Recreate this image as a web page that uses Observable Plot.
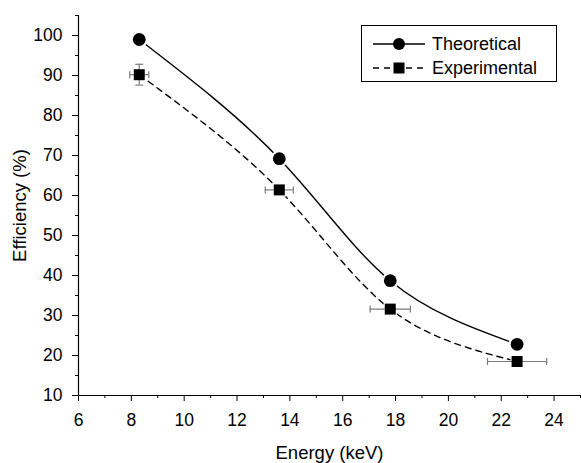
<!DOCTYPE html>
<html>
<head>
<meta charset="utf-8">
<script src="https://cdn.jsdelivr.net/npm/d3@7"></script>
<script src="https://cdn.jsdelivr.net/npm/@observablehq/plot@0.6"></script>
<style>
  html, body { margin: 0; padding: 0; background: #fff; }
  #wrap { position: relative; width: 581px; height: 463px; }
  #legend { position: absolute; left: 361px; top: 25px; width: 196px; height: 57px;
            border: 1px solid #000; background: #fff; box-sizing: border-box;
            font-family: "Liberation Sans", Arial, sans-serif; }
  g[aria-label="x-axis label"] text, g[aria-label="y-axis label"] text { font-size: 18.5px; }
</style>
</head>
<body>
<div id="wrap"></div>
<script>
// ---- data ----
const energy = [8.3, 13.6, 17.8, 22.6];
const theoretical = [99.0, 69.2, 38.7, 22.8];
const experimental = [90.2, 61.4, 31.6, 18.5];
const expEnergyErr = [0.36, 0.53, 0.76, 1.12];
const expEffErr = [2.6, 0, 0, 0];
const seriesNames = ["Theoretical", "Experimental"];
const xMajorTicks = [6, 8, 10, 12, 14, 16, 18, 20, 22, 24];
const xMinorTicks = [7, 9, 11, 13, 15, 17, 19, 21, 23, 25];
const yMajorTicks = [10, 20, 30, 40, 50, 60, 70, 80, 90, 100];
const yMinorTicks = [15, 25, 35, 45, 55, 65, 75, 85, 95, 105];

const theo = energy.map((e, i) => ({x: e, y: theoretical[i]}));
const expt = energy.map((e, i) => ({x: e, y: experimental[i], xe: expEnergyErr[i], ye: expEffErr[i]}));
const expYErr = expt.filter(d => d.ye > 0);

const vBar = {draw(ctx, size) { const h = Math.sqrt(size / Math.PI); ctx.moveTo(0, -h); ctx.lineTo(0, h); }};
const hBar = {draw(ctx, size) { const h = Math.sqrt(size / Math.PI); ctx.moveTo(-h, 0); ctx.lineTo(h, 0); }};
const errColor = "#7a7a7a";

const chart = Plot.plot({
  width: 581, height: 463,
  marginLeft: 78, marginRight: 1, marginTop: 15, marginBottom: 68,
  x: {domain: [6, 25]},
  y: {domain: [10, 105]},
  style: {fontFamily: "Liberation Sans, Arial, sans-serif", fontSize: "17.5px", color: "#000", background: "#fff", overflow: "visible"},
  marks: [
    Plot.axisX(xMajorTicks, {tickSize: 6, tickPadding: 12, label: "Energy (keV)", labelAnchor: "center", labelArrow: "none", labelOffset: 63}),
    Plot.axisX(xMinorTicks, {tickSize: 3, tickFormat: () => "", label: null}),
    Plot.axisY(yMajorTicks, {tickSize: 6, tickPadding: 10, label: "Efficiency (%)", labelAnchor: "center", labelArrow: "none", labelOffset: 66}),
    Plot.axisY(yMinorTicks, {tickSize: 3, tickFormat: () => "", label: null}),
    Plot.ruleX([6], {stroke: "#000", strokeWidth: 1.2}),
    Plot.ruleY([10], {stroke: "#000", strokeWidth: 1.2}),
    Plot.line(theo, {x: "x", y: "y", curve: "natural", stroke: "#000", strokeWidth: 1.4}),
    Plot.line(expt, {x: "x", y: "y", curve: "natural", stroke: "#000", strokeWidth: 1.4, strokeDasharray: "6,5"}),
    Plot.dot(theo, {x: "x", y: "y", r: 8.5, fill: "#fff", stroke: "none", symbol: "circle"}),
    Plot.dot(expt, {x: "x", y: "y", r: 7.5, fill: "#fff", stroke: "none", symbol: "square"}),
    // error bars
    Plot.ruleY(expt, {y: "y", x1: d => d.x - d.xe, x2: d => d.x + d.xe, stroke: errColor, strokeWidth: 1.2}),
    Plot.dot(expt, {x: d => d.x - d.xe, y: "y", r: 3.5, symbol: vBar, stroke: errColor, fill: "none", strokeWidth: 1.2}),
    Plot.dot(expt, {x: d => d.x + d.xe, y: "y", r: 3.5, symbol: vBar, stroke: errColor, fill: "none", strokeWidth: 1.2}),
    Plot.ruleX(expYErr, {x: "x", y1: d => d.y - d.ye, y2: d => d.y + d.ye, stroke: errColor, strokeWidth: 1.2}),
    Plot.dot(expYErr, {x: "x", y: d => d.y - d.ye, r: 4, symbol: hBar, stroke: errColor, fill: "none", strokeWidth: 1.2}),
    Plot.dot(expYErr, {x: "x", y: d => d.y + d.ye, r: 4, symbol: hBar, stroke: errColor, fill: "none", strokeWidth: 1.2}),
    // markers
    Plot.dot(theo, {x: "x", y: "y", r: 6.4, fill: "#000", stroke: "none", symbol: "circle"}),
    Plot.dot(expt, {x: "x", y: "y", r: 6.2, fill: "#000", stroke: "none", symbol: "square"})
  ]
});

const wrap = document.getElementById("wrap");
wrap.appendChild(chart);

// legend
const legend = document.createElement("div");
legend.id = "legend";
legend.innerHTML = `
<svg width="194" height="55" style="position:absolute;left:0;top:0;overflow:visible">
  <line x1="11" x2="63" y1="18" y2="18" stroke="#000" stroke-width="1.4"/>
  <circle cx="37" cy="18" r="6" fill="#000"/>
  <line x1="11" x2="63" y1="42" y2="42" stroke="#000" stroke-width="1.4" stroke-dasharray="6,5"/>
  <rect x="31.5" y="36.5" width="11" height="11" fill="#000"/>
  <text x="70" y="18" dy="0.35em" font-size="18" font-family="Liberation Sans, Arial, sans-serif">${seriesNames[0]}</text>
  <text x="70" y="42" dy="0.35em" font-size="18" font-family="Liberation Sans, Arial, sans-serif">${seriesNames[1]}</text>
</svg>`;
wrap.appendChild(legend);
</script>
</body>
</html>
